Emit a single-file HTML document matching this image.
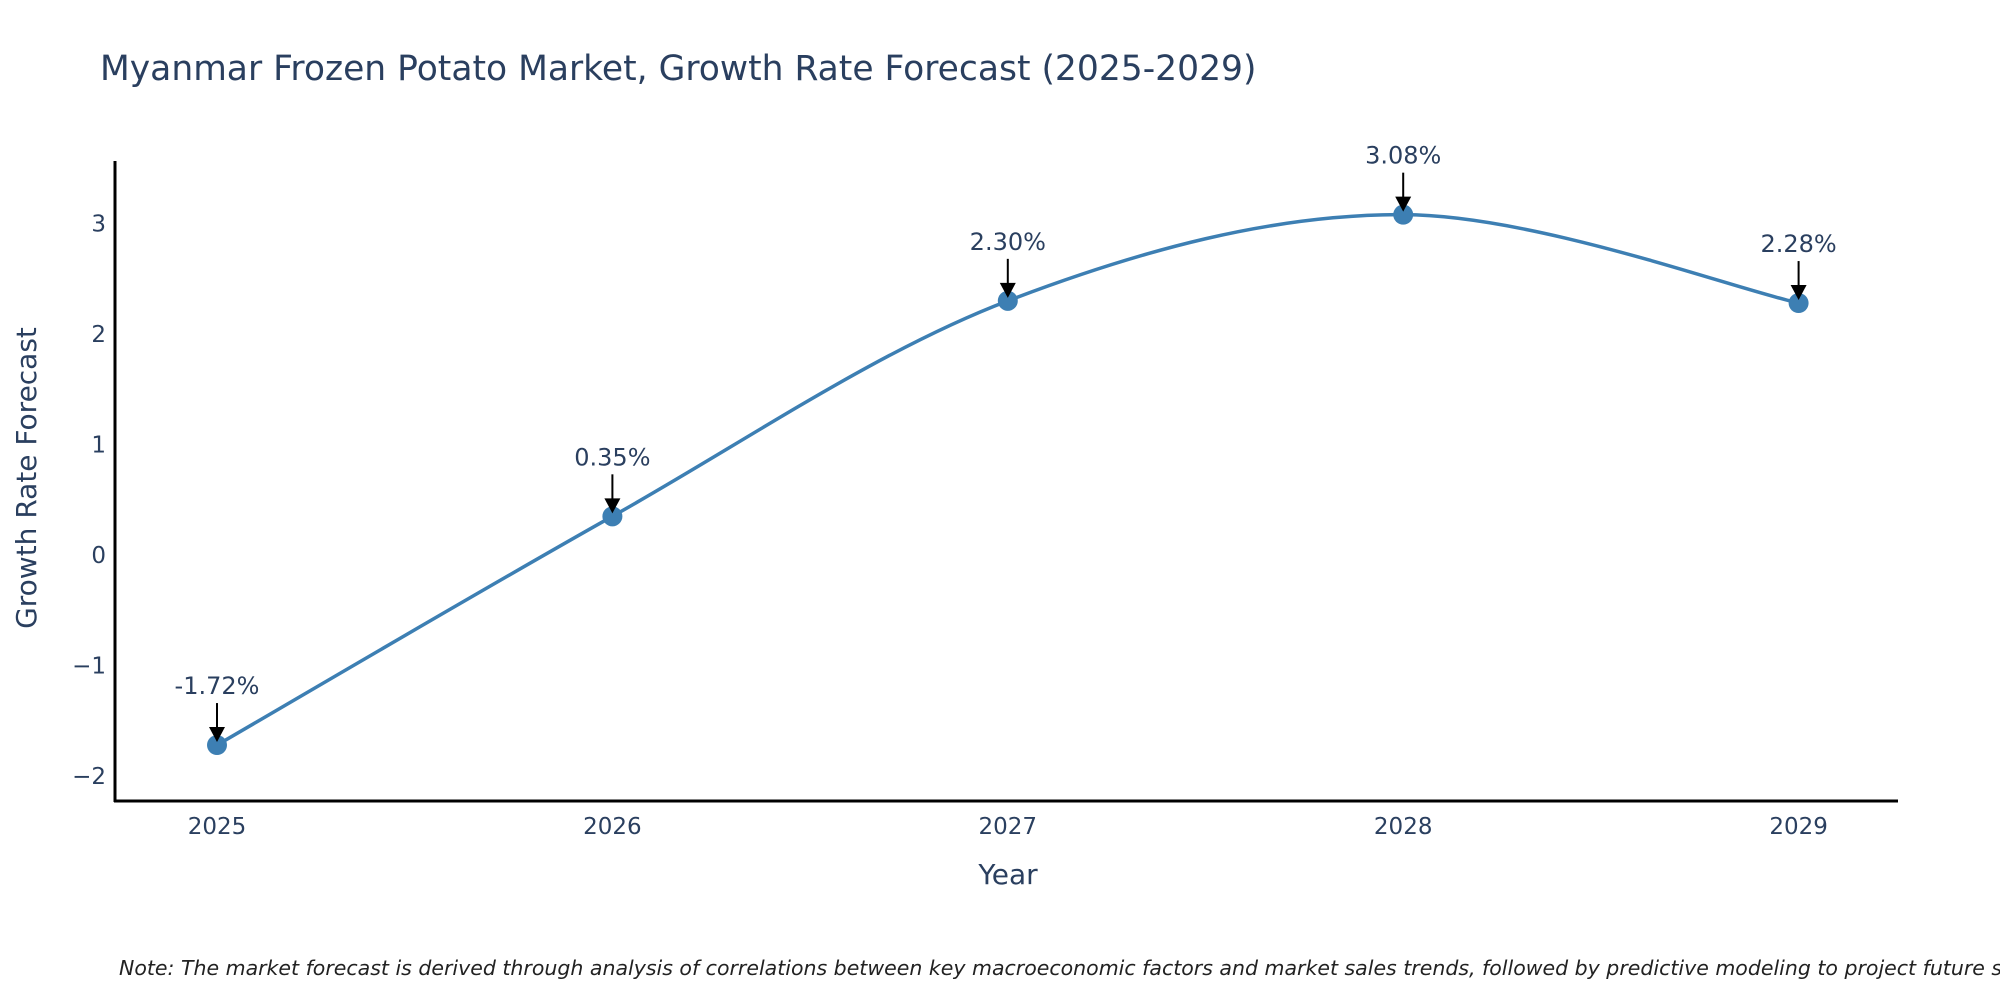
<!DOCTYPE html>
<html><head><meta charset="utf-8"><style>
body{margin:0;background:#fff;}
svg text{font-family:"DejaVu Sans","Liberation Sans",sans-serif;fill:#2a3f5f;}
</style></head><body>
<svg id="chart" width="2000" height="1000" xmlns="http://www.w3.org/2000/svg">
<rect width="2000" height="1000" fill="#fff"/>
<text x="100" y="80" font-size="34.5">Myanmar Frozen Potato Market, Growth Rate Forecast (2025-2029)</text>
<g id="plot"></g>
<text x="1008" y="884" font-size="28" text-anchor="middle">Year</text>
<text transform="translate(36,478) rotate(-90)" font-size="28" text-anchor="middle">Growth Rate Forecast</text>
<text x="119" y="975" font-size="20.5" font-style="italic" style="fill:#222">Note: The market forecast is derived through analysis of correlations between key macroeconomic factors and market sales trends, followed by predictive modeling to project future sales.</text>
</svg>
<script>
const years = [2025, 2026, 2027, 2028, 2029];
const growth = [-1.72, 0.35, 2.30, 3.08, 2.28];
const labels = ["-1.72%", "0.35%", "2.30%", "3.08%", "2.28%"];
const yTicks = [-2, -1, 0, 1, 2, 3];
const yTickLabels = ["\u22122", "\u22121", "0", "1", "2", "3"];

const NS = "http://www.w3.org/2000/svg";
const g = document.getElementById("plot");
const X = v => 217 + (v - 2025) * 395.4;
const Y = v => 555 - v * 110.5;
function mk(tag, attrs, parent) {
  const e = document.createElementNS(NS, tag);
  for (const k in attrs) e.setAttribute(k, attrs[k]);
  (parent || g).appendChild(e);
  return e;
}
const ya = mk("line", {x1: 115, y1: 161, x2: 115, y2: 802, stroke: "#000", "stroke-width": 3});


const xa = mk("line", {x1: 114, y1: 801, x2: 1898, y2: 801, stroke: "#000", "stroke-width": 3});


yTicks.forEach((t, i) => {
  const tx = mk("text", {x: 106, y: Y(t) + 8, "font-size": 23, "text-anchor": "end"});
  tx.textContent = yTickLabels[i];
  
  
});
years.forEach(yr => {
  const tx = mk("text", {x: X(yr), y: 834, "font-size": 23, "text-anchor": "middle"});
  tx.textContent = String(yr);
  
  
});
const pts = years.map((yr, i) => [X(yr), Y(growth[i])]);
let d = "M" + pts[0][0] + "," + pts[0][1];
const s = 1 / 6;
for (let i = 0; i < pts.length - 1; i++) {
  const p0 = pts[Math.max(i - 1, 0)], p1 = pts[i], p2 = pts[i + 1], p3 = pts[Math.min(i + 2, pts.length - 1)];
  const c1 = [p1[0] + (p2[0] - p0[0]) * s, p1[1] + (p2[1] - p0[1]) * s];
  const c2 = [p2[0] - (p3[0] - p1[0]) * s, p2[1] - (p3[1] - p1[1]) * s];
  d += " C" + c1 + " " + c2 + " " + p2;
}
const line = mk("path", {d: d, fill: "none", stroke: "#3d7fb3", "stroke-width": 3.5});


pts.forEach((p, i) => {
  const c = mk("circle", {cx: p[0], cy: p[1], r: 10, fill: "#3d7fb3"});
  
  
  const a = mk("line", {x1: p[0], y1: p[1] - 42, x2: p[0], y2: p[1] - 16, stroke: "#000", "stroke-width": 2});
  
  
  const h = mk("polygon", {points: (p[0]-8)+","+(p[1]-18)+" "+(p[0]+8)+","+(p[1]-18)+" "+p[0]+","+(p[1]-3), fill: "#000"});
  
  
  const t = mk("text", {x: p[0], y: p[1] - 51, "font-size": 24, "text-anchor": "middle"});
  t.textContent = labels[i];
  
  
});
</script>
</body></html>
